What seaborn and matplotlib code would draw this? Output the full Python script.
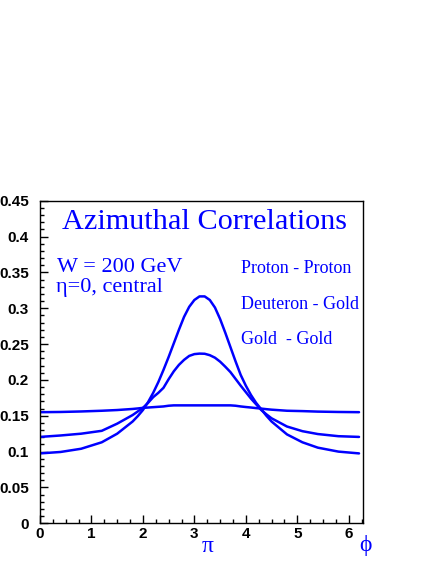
import numpy as np
import pandas as pd
import matplotlib
matplotlib.use("Agg")
import matplotlib.pyplot as plt
from matplotlib.ticker import MultipleLocator, FuncFormatter
import seaborn as sns

# azimuthal angle grid (radians) shared by the three curves
phi = [0.0, 0.4, 0.8, 1.2, 1.5,
       1.8, 1.9, 2.0, 2.1, 2.2, 2.3, 2.4, 2.5, 2.6, 2.7,
       2.8, 2.9, 3.0, 3.1, 3.2, 3.3, 3.4, 3.5, 3.6, 3.7,
       3.8, 3.9, 4.0, 4.1, 4.2, 4.3, 4.4, 4.5,
       4.8, 5.1, 5.4, 5.8, 6.2]

proton_proton = [0.0975, 0.0995, 0.104, 0.113, 0.125,
                 0.142, 0.1495, 0.158, 0.169, 0.182, 0.197, 0.214, 0.232, 0.251, 0.270,
                 0.288, 0.302, 0.3115, 0.3165, 0.3165, 0.3115, 0.301, 0.285, 0.266, 0.246,
                 0.226, 0.207, 0.192, 0.179, 0.168, 0.159, 0.150, 0.142,
                 0.124, 0.113, 0.1055, 0.100, 0.0975]
deuteron_gold = [0.1205, 0.1225, 0.125, 0.129, 0.139,
                 0.151, 0.156, 0.161, 0.168, 0.176, 0.182, 0.189, 0.201, 0.212, 0.221,
                 0.228, 0.2335, 0.236, 0.2367, 0.2365, 0.2345, 0.231, 0.2255, 0.2185, 0.211,
                 0.2015, 0.192, 0.183, 0.174, 0.166, 0.158, 0.152, 0.1465,
                 0.135, 0.1285, 0.1245, 0.1215, 0.1205]
gold_gold = [0.155, 0.1553, 0.156, 0.157, 0.158,
             0.1595, 0.1602, 0.161, 0.1615, 0.162, 0.1625, 0.163, 0.164, 0.1645, 0.1645,
             0.1645, 0.1645, 0.1645, 0.1645, 0.1645, 0.1645, 0.1645, 0.1645, 0.1645, 0.1645,
             0.164, 0.163, 0.1622, 0.1615, 0.1607, 0.160, 0.1592, 0.1585,
             0.157, 0.1565, 0.1558, 0.1553, 0.155]

series_names = ["Proton - Proton", "Deuteron - Gold", "Gold  - Gold"]
series_values = [proton_proton, deuteron_gold, gold_gold]

x_ticks = [0, 1, 2, 3, 4, 5, 6]

BLUE = "#0000ff"
W, H = 436, 564

rows = []
for name, vals in zip(series_names, series_values):
    for p, v in zip(phi, vals):
        rows.append({"phi": p, "value": v, "system": name})
df = pd.DataFrame(rows)

sns.set_style("ticks")
plt.rcParams["font.family"] = ["Liberation Sans", "DejaVu Sans"]
plt.rcParams["font.weight"] = "bold"
plt.rcParams["xtick.labelsize"] = 11
plt.rcParams["ytick.labelsize"] = 11

fig = plt.figure(figsize=(W / 100, H / 100), dpi=100)
ax = fig.add_axes([40 / W, (H - 523.3) / H, 323.3 / W, 322.6 / H])

sns.lineplot(data=df, x="phi", y="value", hue="system",
             palette=[BLUE] * 3, estimator=None, sort=False,
             linewidth=1.8, legend=False, ax=ax)

ax.set_xlim(0, 2 * np.pi)
ax.set_ylim(0, 0.45)
ax.set_xlabel("")
ax.set_ylabel("")

ax.set_xticks(x_ticks)
ax.xaxis.set_minor_locator(MultipleLocator(0.25))
ax.yaxis.set_major_locator(MultipleLocator(0.05))
ax.yaxis.set_minor_locator(MultipleLocator(0.01))
ax.yaxis.set_major_formatter(FuncFormatter(lambda v, pos: "0" if abs(v) < 1e-9 else f"{v:.2f}".rstrip("0").rstrip(".")))

ax.tick_params(axis="both", which="both", direction="in", top=False, right=False, colors="black")
ax.tick_params(axis="both", which="major", length=6, width=1.0)
ax.tick_params(axis="both", which="minor", length=3, width=1.0)
ax.tick_params(axis="x", which="major", pad=3)
ax.tick_params(axis="y", which="major", pad=8)

for sp in ax.spines.values():
    sp.set_visible(True)
    sp.set_color("black")
    sp.set_linewidth(1.0)

serif = ["Liberation Serif", "DejaVu Serif"]


def ftext(x, y, s, size):
    fig.text(x / W, 1 - y / H, s, color=BLUE, fontsize=size, fontweight="normal",
             family=serif, va="baseline", ha="left")


ftext(62, 229.3, "Azimuthal Correlations", 21.8)
ftext(57, 271.7, "W = 200 GeV", 16)
ftext(56, 292.3, "\u03b7=0, central", 16)

label_y = [273.3, 309.0, 344.0]
for name, y in zip(series_names, label_y):
    ftext(240.7, y, name, 13)

ftext(202, 551.5, "\u03c0", 17)
ftext(359, 551.0, "\u03d5", 17)

fig.savefig("out.png", dpi=100)
